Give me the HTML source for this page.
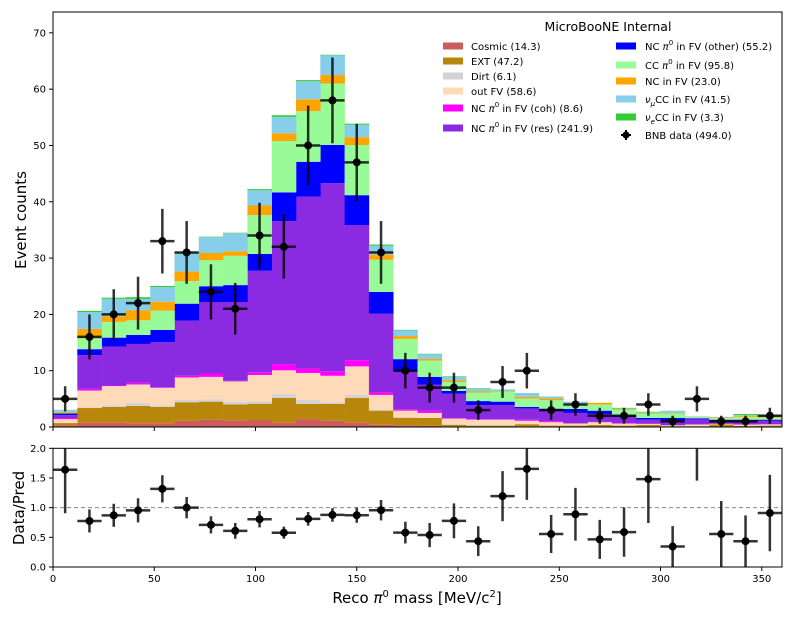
<!DOCTYPE html>
<html><head><meta charset="utf-8">
<style>
html,body{margin:0;padding:0;background:#fff;}
svg{display:block;font-family:"DejaVu Sans","Liberation Sans",sans-serif;}
</style></head>
<body>
<svg id="chart" width="792" height="619" viewBox="0 0 792 619" xmlns="http://www.w3.org/2000/svg">
<g id="main"></g>
<g id="ratio"></g>
<g id="legend"></g>
</svg>
<script>
const binEdges0 = 0, binWidth = 12;
const cosmic = [0.3,0.77,0.77,0.65,0.65,1.1,1.3,1.2,1.24,0.77,1.4,1.1,0.77,0.4,0.3,0.2,0.1,0.05,0.05,0.1,0.05,0.05,0.05,0.05,0.05,0.05,0.05,0.05,0.05,0.05];
const ext = [0.4,2.6,2.8,3.1,2.9,3.3,3.2,2.8,2.9,4.4,2.7,3.0,4.4,2.5,1.35,1.4,0.3,0.2,0.2,0.4,0.2,0.2,0.3,0.2,0.3,0.1,0.1,0.4,0.15,0.2];
const dirt = [0,0.1,0.3,0.5,0.3,0.4,0.4,0.5,0.4,0.65,0.7,0.3,0.5,0.2,0.05,0.05,0.1,0.05,0.05,0,0,0,0,0,0,0,0,0,0,0];
const outFV = [0.7,3.0,3.4,3.3,3.1,4.0,4.0,3.6,4.7,4.25,4.8,4.7,5.1,2.6,1.2,0.85,1.0,1.0,1.0,0.6,0.6,0.35,0.5,0.35,0.2,0.15,0.3,0.1,0.2,0.2];
const coh = [0.2,0.3,0.1,0.3,0.1,0.3,0.6,0.1,0.5,1.1,0.8,0.8,1.1,0.5,0.25,0.4,0.1,0.1,0.1,0.2,0.2,0.05,0.05,0.1,0.05,0,0,0.05,0.1,0.05];
const res = [0.5,6.0,6.9,6.9,8.0,9.8,12.7,14.0,18.0,25.4,30.5,33.4,24.0,13.9,6.8,4.6,4.3,2.5,2.5,2.0,1.8,1.85,1.4,1.1,0.7,0.8,0.9,0.5,0.6,0.6];
const other = [0.3,1.05,1.6,1.6,2.2,3.0,2.8,3.0,3.0,5.1,6.2,6.8,5.3,3.9,2.1,1.4,0.5,0.7,0.6,0.25,0.4,0.7,0.6,0.3,0.3,0.5,0.2,0.2,0.2,0.2];
const ccpi0 = [0.1,2.0,2.8,2.6,3.4,4.0,4.6,5.2,6.9,9.1,9.0,10.9,8.9,5.7,3.6,2.9,1.6,1.5,1.8,1.5,1.5,0.9,1.1,1.0,0.8,0.8,0.2,0.3,0.5,0.4];
const ncfv = [0.2,1.6,1.0,1.8,1.6,1.7,1.3,0.8,1.7,1.4,2.1,1.5,1.4,0.9,0.5,0.3,0.3,0.2,0.1,0.3,0.3,0.1,0.3,0.1,0.1,0.1,0.05,0.1,0.2,0.2];
const numu = [0.3,3.0,3.1,2.0,2.6,3.2,2.8,3.2,2.7,2.9,3.2,3.5,2.2,1.6,1.0,0.8,0.6,0.5,0.3,0.7,0.3,0.3,0,0.1,0.1,0.4,0.1,0.1,0.1,0.1];
const nue = [0.05,0.2,0.2,0.3,0.2,0.2,0.1,0.1,0.2,0.3,0.2,0.1,0.2,0.2,0.1,0.1,0.1,0.1,0,0,0.05,0,0,0.1,0.1,0,0,0,0.2,0.2];
const dataCounts = [5,16,20,22,33,31,24,21,34,32,50,58,47,31,10,7,7,3,8,10,3,4,2,2,4,1,5,1,1,2];
const yTicksMain = [0,10,20,30,40,50,60,70];
const yTicksRatio = ["0.0","0.5","1.0","1.5","2.0"];
const xTicks = [0,50,100,150,200,250,300,350];
const layerNames = ["cosmic","ext","dirt","out-fv","nc-pi0-coh","nc-pi0-res","nc-pi0-other","cc-pi0","nc-in-fv","numu-cc","nue-cc"];
const layerColors = ["#cd5c5c","#b8860b","#d3d3d3","#ffdab9","#ff00ff","#8a2be2","#0000ff","#98fb98","#ffa500","#87ceeb","#32cd32"];
const layers = [cosmic,ext,dirt,outFV,coh,res,other,ccpi0,ncfv,numu,nue];
const legendLeft = ["Cosmic (14.3)","EXT (47.2)","Dirt (6.1)","out FV (58.6)","NC <tspan font-style='italic'>\u03c0</tspan><tspan dy='-5' font-size='7'>0</tspan><tspan dy='5'> in FV (coh) (8.6)</tspan>","NC <tspan font-style='italic'>\u03c0</tspan><tspan dy='-5' font-size='7'>0</tspan><tspan dy='5'> in FV (res) (241.9)</tspan>"];
const legendRight = ["NC <tspan font-style='italic'>\u03c0</tspan><tspan dy='-5' font-size='7'>0</tspan><tspan dy='5'> in FV (other) (55.2)</tspan>","CC <tspan font-style='italic'>\u03c0</tspan><tspan dy='-5' font-size='7'>0</tspan><tspan dy='5'> in FV (95.8)</tspan>","NC in FV (23.0)","<tspan font-style='italic'>\u03bd</tspan><tspan dy='3' font-size='7' font-style='italic'>\u03bc</tspan><tspan dy='-3'>CC in FV (41.5)</tspan>","<tspan font-style='italic'>\u03bd</tspan><tspan dy='3' font-size='7' font-style='italic'>e</tspan><tspan dy='-3'>CC in FV (3.3)</tspan>"];

const NS="http://www.w3.org/2000/svg";
const L=53,R=782,T=12,B=427,RT=448.3,RB=567;
const xs=v=>L+(v/360)*(R-L);
const ys=v=>B-(v/73.7)*(B-T);
const yr=v=>RB-(v/2)*(RB-RT);
function mk(tag,attrs,parent){const e=document.createElementNS(NS,tag);for(const k in attrs)e.setAttribute(k,attrs[k]);parent.appendChild(e);return e;}
const main=document.getElementById('main'),ratio=document.getElementById('ratio'),leg=document.getElementById('legend');

const nb=dataCounts.length;
const totals=new Array(nb).fill(0);
for(let li=0;li<layers.length;li++){
  for(let i=0;i<nb;i++){
    const lo=totals[i],hi=lo+layers[li][i];
    totals[i]=hi;
    if(layers[li][i]<=0)continue;
    const r=mk('rect',{x:xs(i*binWidth),y:ys(hi),width:xs((i+1)*binWidth)-xs(i*binWidth)+0.3,height:ys(lo)-ys(hi),fill:layerColors[li]},main);
    
    
  }
}
function drawPoint(parent,i,val,err,ysc,name){
  const cx=xs(i*binWidth+binWidth/2);
  const g=mk('g',{},parent);
  
  
  mk('line',{x1:xs(i*binWidth),x2:xs((i+1)*binWidth),y1:ysc(val),y2:ysc(val),stroke:'#000','stroke-opacity':0.8,'stroke-width':2.5},g);
  mk('line',{x1:cx,x2:cx,y1:ysc(val-err),y2:ysc(val+err),stroke:'#000','stroke-opacity':0.8,'stroke-width':2.5},g);
  mk('circle',{cx:cx,cy:ysc(val),r:4,fill:'#000'},g);
}
for(let i=0;i<nb;i++){drawPoint(main,i,dataCounts[i],Math.sqrt(dataCounts[i]),ys,'data-point-'+i);}

const fr=mk('rect',{x:L,y:T,width:R-L,height:B-T,fill:'none',stroke:'#000','stroke-width':1},main);

yTicksMain.forEach(v=>{
  mk('line',{x1:L-4,x2:L,y1:ys(v),y2:ys(v),stroke:'#000'},main);
  const t=mk('text',{x:L-7,y:ys(v)+3.5,'text-anchor':'end','font-size':10,fill:'#000'},main);
  t.textContent=v;
});
xTicks.forEach(v=>{mk('line',{x1:xs(v),x2:xs(v),y1:B,y2:B+4,stroke:'#000'},main);});
const yl=mk('text',{x:0,y:0,transform:'translate(26,220) rotate(-90)','text-anchor':'middle','font-size':15,fill:'#000'},main);
yl.textContent='Event counts';

mk('line',{x1:L,x2:R,y1:yr(1),y2:yr(1),stroke:'#888','stroke-dasharray':'4,3','stroke-width':1},ratio);
const cp=mk('g',{},ratio);
const clip=mk('clipPath',{id:'rc'},cp);mk('rect',{x:L,y:RT,width:R-L,height:RB-RT},clip);
const rg=mk('g',{'clip-path':'url(#rc)'},ratio);
for(let i=0;i<nb;i++){drawPoint(rg,i,dataCounts[i]/totals[i],Math.sqrt(dataCounts[i])/totals[i],yr,'ratio-point-'+i);}
const fr2=mk('rect',{x:L,y:RT,width:R-L,height:RB-RT,fill:'none',stroke:'#000'},ratio);

yTicksRatio.forEach(s=>{const v=parseFloat(s);
  mk('line',{x1:L-4,x2:L,y1:yr(v),y2:yr(v),stroke:'#000'},ratio);
  const t=mk('text',{x:L-7,y:yr(v)+3.5,'text-anchor':'end','font-size':10,fill:'#000'},ratio);
  t.textContent=s;
});
xTicks.forEach(v=>{
  mk('line',{x1:xs(v),x2:xs(v),y1:RB,y2:RB+4,stroke:'#000'},ratio);
  const t=mk('text',{x:xs(v),y:RB+15,'text-anchor':'middle','font-size':10,fill:'#000'},ratio);
  t.textContent=v;
});
const rl=mk('text',{x:0,y:0,transform:'translate(24,508) rotate(-90)','text-anchor':'middle','font-size':15,fill:'#000'},ratio);
rl.textContent='Data/Pred';
const xl=mk('text',{x:417,y:603,'text-anchor':'middle','font-size':15,fill:'#000'},ratio);
xl.innerHTML='Reco <tspan font-style="italic">\u03c0</tspan><tspan dy="-6" font-size="10">0</tspan><tspan dy="6"> mass [MeV/c</tspan><tspan dy="-6" font-size="10">2</tspan><tspan dy="6">]</tspan>';


const lt=mk('text',{x:608,y:31,'text-anchor':'middle','font-size':12.5,fill:'#000'},leg);
lt.textContent='MicroBooNE Internal';
const leftY=[46,61,76,91,108,128],rightY=[46,65,81,99,117];
legendLeft.forEach((s,i)=>{
  const g=mk('g',{},leg);
  mk('rect',{x:443,y:leftY[i]-3.5,width:20,height:7,fill:layerColors[i]},g);
  const t=mk('text',{x:471,y:leftY[i]+4,'font-size':10,fill:'#000'},g);t.innerHTML=s;
});
legendRight.forEach((s,i)=>{
  const g=mk('g',{},leg);
  mk('rect',{x:616,y:rightY[i]-3.5,width:20,height:7,fill:layerColors[i+6]},g);
  const t=mk('text',{x:645,y:rightY[i]+4,'font-size':10,fill:'#000'},g);t.innerHTML=s;
});
{const g=mk('g',{},leg);
 mk('line',{x1:626,x2:626,y1:130,y2:140,stroke:'#000','stroke-width':2},g);
 mk('line',{x1:621,x2:631,y1:135,y2:135,stroke:'#000','stroke-width':2},g);
 mk('circle',{cx:626,cy:135,r:3.5,fill:'#000'},g);
 const t=mk('text',{x:645,y:139,'font-size':10,fill:'#000'},g);t.textContent='BNB data (494.0)';}
</script>
</body></html>
